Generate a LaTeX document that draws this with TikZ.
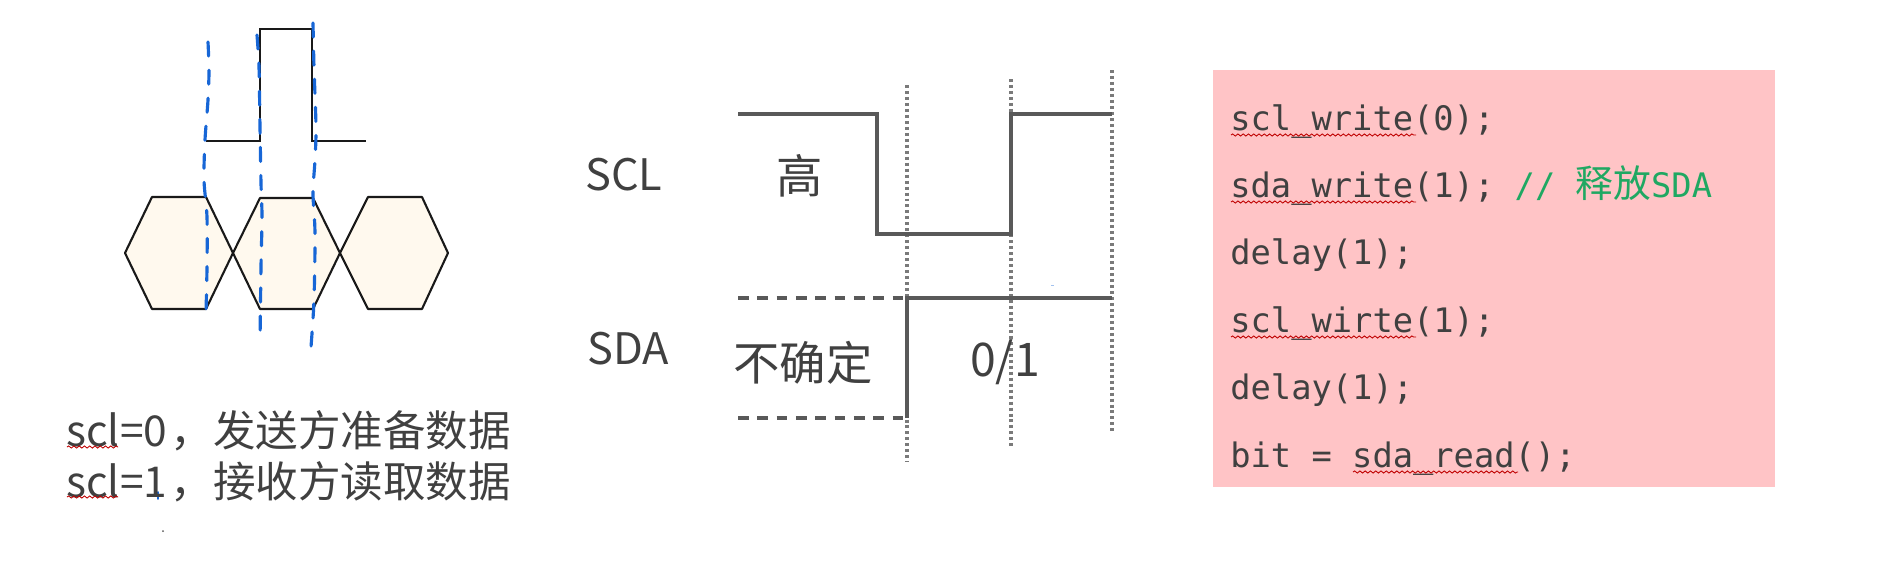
\documentclass[tikz,border=0pt]{standalone}
\usepackage{fontspec}
\setmainfont{Noto Sans CJK SC}
\setmonofont{DejaVu Sans Mono}
\usepackage{tikz}
\usetikzlibrary{positioning, decorations.pathmorphing}
\usepackage{xcolor}
\definecolor{hexfill}{HTML}{FFF9EE}
\definecolor{penblue}{HTML}{1766D6}
\definecolor{wavegray}{HTML}{595959}
\definecolor{textgray}{HTML}{404040}
\definecolor{codepink}{HTML}{FFC4C6}
\definecolor{commentgreen}{HTML}{1FA862}

\begin{document}
\begin{tikzpicture}[
        x=0.02cm, y=-0.02cm,
        hexbox/.style={draw=black!90, fill=hexfill, line width=1.2pt, line join=round},
        pulse/.style={draw=black!90, line width=1.2pt},
        pen/.style={draw=penblue, line width=1.8pt, line cap=round,
                    dash pattern=on 8pt off 8pt},
        wave/.style={draw=wavegray, line width=2pt},
        undefinedlevel/.style={wave, dash pattern=on 6pt off 5pt},
        guide/.style={draw=wavegray!80, line width=1.9pt, dash pattern=on 1.7pt off 1.7pt},
        squiggle/.style={draw=red!75!black, line width=0.5pt, decorate,
                         decoration={snake, amplitude=0.6pt, segment length=3pt}},
        signal/.style={text=textgray, inner sep=0pt, font=\fontsize{24.7pt}{28pt}\selectfont},
        label/.style={text=textgray, inner sep=0pt, font=\fontsize{26.4pt}{30pt}\selectfont},
        note/.style={text=textgray, inner sep=0pt, anchor=base west,
                     font=\fontsize{24.2pt}{28pt}\selectfont},
        codeline/.style={text=textgray, inner sep=0pt, anchor=base west,
                         font=\ttfamily\fontsize{19.2pt}{22pt}\selectfont}
    ]
    \useasboundingbox (0,0) rectangle (1901,578);

    %% LEFT: pulse over data hexagons
    \draw[hexbox] (125,253) -- (152,197) -- (206,197) -- (233,253) -- (206,309) -- (152,309) -- cycle;
    \draw[hexbox] (233,253) -- (260,198) -- (313,198) -- (340,253) -- (313,309) -- (260,309) -- cycle;
    \draw[hexbox] (340,253) -- (368,197) -- (422,197) -- (448,253) -- (422,309) -- (368,309) -- cycle;
    \draw[pulse] (206,141) -- (260,141) -- (260,29) -- (312,29) -- (312,141) -- (366,141);

    \draw[pen] plot[smooth] coordinates {(208,42) (209,70) (208,100) (205,140) (204,180) (207,217) (207,267) (206,313)};
    \draw[pen] plot[smooth] coordinates {(257,35) (259,67) (260,127) (261,183) (262,217) (261,267) (260,342)};
    \draw[pen] plot[smooth] coordinates {(313,23) (314,67) (316,127) (315,160) (313,193) (315,233) (314,300) (311,347)};
    \draw[penblue, line width=1pt, line cap=round] (158,492) -- (158,499);
    \fill[wavegray] (163,531) circle (1);

    \node[note] (noteA) at (66,446) {scl=0\hspace{2pt}，发送方准备数据};
    \node[note, below=1.04cm of noteA.base west, anchor=base west] (noteB) {scl=1\hspace{2pt}，接收方读取数据};
    \draw[squiggle] (67,447) -- (118,447);
    \draw[squiggle] (67,497) -- (118,497);

    %% MIDDLE: timing of SCL and SDA
    \draw[guide] (907,85) -- (907,462);
    \draw[guide] (1011,79) -- (1011,449);
    \draw[guide] (1112,70) -- (1112,432);
    \draw[wave] (738,114) -- (877,114) -- (877,234) -- (1011,234) -- (1011,114) -- (1112,114);
    \draw[undefinedlevel] (738,298) -- (907,298);
    \draw[undefinedlevel] (738,418) -- (907,418);
    \draw[wave] (907,418) -- (907,298) -- (1112,298);
    \draw[penblue!40, line width=0.5pt] (1051,285) -- (1054,285);

    \node[signal] (scl) at (624,175) {SCL};
    \node[signal] (sda) at (628,349) {SDA};
    \node[label] (high) at (800,176) {高};
    \node[label] (unsure) at (803,363) {不确定};
    \node[label] (bitval) at (1005,362) {0/1};

    %% RIGHT: code for reading one bit
    \fill[codepink] (1213,70) rectangle (1775,487);
    \node[codeline] (codeA) at (1230,130) {scl\_write(0);};
    \node[codeline, below=1.35cm of codeA.base west, anchor=base west] (codeB)
          {sda\_write(1); \textcolor{commentgreen}{// {\rmfamily\fontsize{21.5pt}{22pt}\selectfont 释放}SDA}};
    \node[codeline, below=1.35cm of codeB.base west, anchor=base west] (codeC) {delay(1);};
    \node[codeline, below=1.35cm of codeC.base west, anchor=base west] (codeD) {scl\_wirte(1);};
    \node[codeline, below=1.35cm of codeD.base west, anchor=base west] (codeE) {delay(1);};
    \node[codeline, below=1.35cm of codeE.base west, anchor=base west] (codeF) {bit = sda\_read();};
    \draw[squiggle] (1231,135) -- (1416,135);
    \draw[squiggle] (1231,202) -- (1416,202);
    \draw[squiggle] (1231,337) -- (1416,337);
    \draw[squiggle] (1353,472) -- (1518,472);

    \end{tikzpicture}
\end{document}
